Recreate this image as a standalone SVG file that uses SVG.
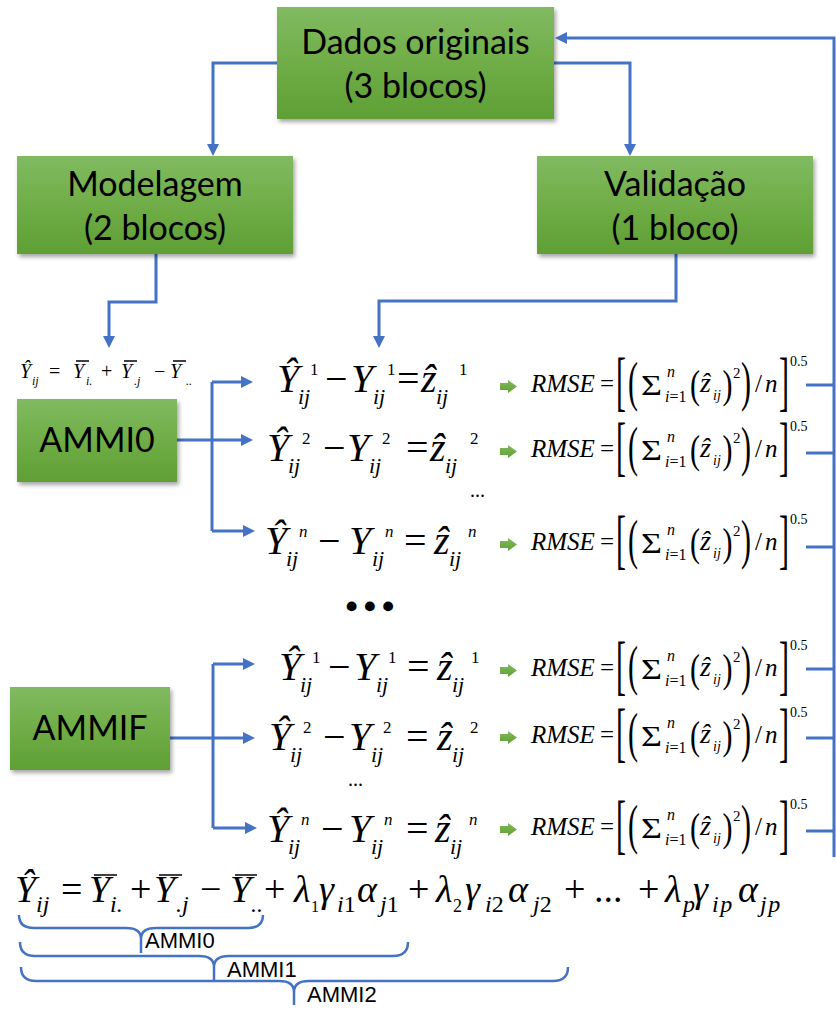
<svg xmlns="http://www.w3.org/2000/svg" width="836" height="1021" viewBox="0 0 836 1021">
<style>
.box{fill:url(#gg);filter:url(#sh)}
.bt{font-family:Lato,"Liberation Sans",sans-serif;font-size:34px;fill:#000;text-anchor:middle}
.c{fill:none;stroke:#4472C4;stroke-width:3}
.a{marker-end:url(#ah)}
.br{fill:none;stroke:#4472C4;stroke-width:2.5}
.lb{font-family:"Liberation Sans",Arial,sans-serif;font-size:22px;fill:#000}
.m{font-family:"Liberation Serif","Times New Roman","DejaVu Serif",serif;fill:#000}
.i{font-style:italic}
.n{font-style:normal}
.E{font-size:40px}
.s{font-size:22px}
.u{font-size:17px}
.F{font-size:38px}
.t{font-size:24px}
.bar{stroke:#000;stroke-width:1.5}
.ga{fill:url(#gg)}
</style>
<defs>
<linearGradient id="gg" x1="0" y1="0" x2="0" y2="1">
<stop offset="0" stop-color="#81BA61"/>
<stop offset="0.5" stop-color="#70AD47"/>
<stop offset="1" stop-color="#5F9F34"/>
</linearGradient>
<filter id="sh" x="-10%" y="-10%" width="130%" height="140%">
<feDropShadow dx="2" dy="3" stdDeviation="2" flood-color="#000" flood-opacity="0.35"/>
</filter>
<marker id="ah" markerWidth="12" markerHeight="12" refX="6" refY="6" orient="auto" markerUnits="userSpaceOnUse">
<path d="M0,0 L12,6 L0,12 Z" fill="#4472C4"/>
</marker>
</defs>
<rect width="836" height="1021" fill="#fff"/>

<g id="connectors">
<path class="c a" d="M277,63 H213 V150"/>
<path class="c a" d="M554,63 H630 V150"/>
<path class="c a" d="M156,254 V302 H109 V342"/>
<path class="c a" d="M676,254 V301 H379 V342"/>
<path class="c a" d="M177,440 H247"/>
<path class="c" d="M212,382 V531"/>
<path class="c a" d="M212,382 H247"/>
<path class="c a" d="M212,531 H249"/>
<path class="c a" d="M170,738 H249"/>
<path class="c" d="M213,664 V828"/>
<path class="c a" d="M213,664 H249"/>
<path class="c a" d="M213,828 H251"/>
<path class="c a" d="M834,857 V38 H561"/>
<path class="c" d="M806,385 H834 M806,453 H834 M806,547 H834 M806,669 H834 M806,738 H834 M806,831 H834"/>
</g>

<g id="dados">
<rect class="box" x="277" y="7" width="277" height="112"/>
<text class="bt" x="415.5" y="54">Dados originais</text>
<text class="bt" x="415.5" y="98">(3 blocos)</text>
</g>
<g id="modelagem">
<rect class="box" x="17" y="156" width="276" height="98"/>
<text class="bt" x="155" y="196">Modelagem</text>
<text class="bt" x="155" y="240">(2 blocos)</text>
</g>
<g id="validacao">
<rect class="box" x="537" y="156" width="276" height="98"/>
<text class="bt" x="675" y="196">Validação</text>
<text class="bt" x="675" y="240">(1 bloco)</text>
</g>
<g id="ammi0">
<rect class="box" x="17" y="399" width="160" height="83"/>
<text class="bt" x="97" y="452">AMMI0</text>
</g>
<g id="ammif">
<rect class="box" x="10" y="687" width="160" height="83"/>
<text class="bt" x="90" y="740">AMMIF</text>
</g>

<g id="formula-ammi0">
<text class="m" font-size="20"><tspan class="i" x="20" y="378">Ŷ</tspan><tspan class="i" font-size="12" x="32" y="385">ij</tspan><tspan x="49" y="378">=</tspan><tspan class="i" x="73" y="378">Y</tspan><tspan class="i" font-size="12" x="86" y="385">i.</tspan><tspan x="101" y="378">+</tspan><tspan class="i" x="121" y="378">Y</tspan><tspan class="i" font-size="12" x="134" y="385">.j</tspan><tspan x="154" y="378">−</tspan><tspan class="i" x="170" y="378">Y</tspan><tspan class="i" font-size="12" x="186" y="385">..</tspan></text>
<line class="bar" x1="76" y1="361" x2="89" y2="361" stroke-width="1"/>
<line class="bar" x1="124" y1="361" x2="137" y2="361" stroke-width="1"/>
<line class="bar" x1="173" y1="361" x2="186" y2="361" stroke-width="1"/>
</g>

<g id="eq-g1-r1">
<text class="m E"><tspan class="i" x="277" y="392">Ŷ</tspan><tspan class="i s" x="298" y="404">ij</tspan><tspan class="u" x="310" y="375">1</tspan><tspan x="325" y="392">−</tspan><tspan class="i" x="351" y="392">Y</tspan><tspan class="i s" x="373" y="404">ij</tspan><tspan class="u" x="387" y="375">1</tspan><tspan x="397" y="392">=</tspan><tspan class="i" x="421" y="392">ẑ</tspan><tspan class="i s" x="436" y="404">ij</tspan><tspan class="u" x="459" y="375">1</tspan></text>
</g>
<g id="eq-g1-r2">
<text class="m E"><tspan class="i" x="267" y="461">Ŷ</tspan><tspan class="i s" x="288" y="473">ij</tspan><tspan class="u" x="302" y="444">2</tspan><tspan x="323" y="461">−</tspan><tspan class="i" x="347" y="461">Y</tspan><tspan class="i s" x="369" y="473">ij</tspan><tspan class="u" x="382" y="444">2</tspan><tspan x="406" y="461">=</tspan><tspan class="i" x="430" y="461">ẑ</tspan><tspan class="i s" x="445" y="473">ij</tspan><tspan class="u" x="470" y="444">2</tspan></text>
</g>
<text class="m" x="470" y="497" font-size="20">...</text>
<g id="eq-g1-rn">
<text class="m E"><tspan class="i" x="265" y="554">Ŷ</tspan><tspan class="i s" x="286" y="566">ij</tspan><tspan class="i u" x="299" y="537">n</tspan><tspan x="318" y="554">−</tspan><tspan class="i" x="349" y="554">Y</tspan><tspan class="i s" x="372" y="566">ij</tspan><tspan class="i u" x="385" y="537">n</tspan><tspan x="404" y="554">=</tspan><tspan class="i" x="434" y="554">ẑ</tspan><tspan class="i s" x="449" y="566">ij</tspan><tspan class="i u" x="468" y="537">n</tspan></text>
</g>

<text class="m" x="346" y="610" font-size="45" font-weight="bold" letter-spacing="7" stroke="#000" stroke-width="2.5">...</text>

<g id="eq-g2-r1">
<text class="m E"><tspan class="i" x="279" y="680">Ŷ</tspan><tspan class="i s" x="300" y="692">ij</tspan><tspan class="u" x="312" y="663">1</tspan><tspan x="328" y="680">−</tspan><tspan class="i" x="354" y="680">Y</tspan><tspan class="i s" x="376" y="692">ij</tspan><tspan class="u" x="388" y="663">1</tspan><tspan x="407" y="680">=</tspan><tspan class="i" x="437" y="680">ẑ</tspan><tspan class="i s" x="452" y="692">ij</tspan><tspan class="u" x="471" y="663">1</tspan></text>
</g>
<g id="eq-g2-r2">
<text class="m E"><tspan class="i" x="269" y="750">Ŷ</tspan><tspan class="i s" x="290" y="762">ij</tspan><tspan class="u" x="303" y="733">2</tspan><tspan x="323" y="750">−</tspan><tspan class="i" x="349" y="750">Y</tspan><tspan class="i s" x="371" y="762">ij</tspan><tspan class="u" x="383" y="733">2</tspan><tspan x="406" y="750">=</tspan><tspan class="i" x="437" y="750">ẑ</tspan><tspan class="i s" x="452" y="762">ij</tspan><tspan class="u" x="470" y="733">2</tspan></text>
</g>
<text class="m" x="348" y="786" font-size="20">...</text>
<g id="eq-g2-rn">
<text class="m E"><tspan class="i" x="267" y="842">Ŷ</tspan><tspan class="i s" x="288" y="854">ij</tspan><tspan class="i u" x="301" y="825">n</tspan><tspan x="321" y="842">−</tspan><tspan class="i" x="349" y="842">Y</tspan><tspan class="i s" x="371" y="854">ij</tspan><tspan class="i u" x="384" y="825">n</tspan><tspan x="406" y="842">=</tspan><tspan class="i" x="435" y="842">ẑ</tspan><tspan class="i s" x="450" y="854">ij</tspan><tspan class="i u" x="469" y="825">n</tspan></text>
</g>

<g id="rmse-1">
<polygon class="ga" points="500,383 508,383 508,380 517,386.5 508,393 508,390 500,390"/>
<text class="m" font-size="25"><tspan class="i" x="531" y="392">RMSE</tspan><tspan x="600" y="392">=</tspan></text>
<text class="m" transform="translate(616,413) scale(1,2.15)" y="-4.5" font-size="30">[</text>
<text class="m" transform="translate(628,410) scale(1,1.84)" y="-5.3" font-size="30">(</text>
<text class="m" transform="translate(641,395) scale(1.2,1)" font-size="30">Σ</text>
<text class="m" font-size="16"><tspan class="i" x="667" y="377">n</tspan><tspan class="i" x="665" y="402">i</tspan><tspan>=1</tspan></text>
<text class="m" transform="translate(690,405) scale(1,1.3)" y="-5.3" font-size="30">(</text>
<text class="m i" font-size="28"><tspan x="700" y="392">ẑ</tspan><tspan font-size="14" x="713" y="400">ij</tspan></text>
<text class="m" transform="translate(722.5,405) scale(1,1.3)" y="-5.3" font-size="30">)</text>
<text class="m" x="733" y="378" font-size="15">2</text>
<text class="m" transform="translate(741,410) scale(1,1.84)" y="-5.3" font-size="30">)</text>
<text class="m" font-size="25"><tspan x="755" y="392">/</tspan><tspan class="i" x="765" y="392">n</tspan></text>
<text class="m" transform="translate(779,413) scale(1,2.15)" y="-4.5" font-size="30">]</text>
<text class="m" x="790" y="366" font-size="14">0.5</text>
</g>
<g id="rmse-2" transform="translate(0,65)">
<polygon class="ga" points="500,383 508,383 508,380 517,386.5 508,393 508,390 500,390"/>
<text class="m" font-size="25"><tspan class="i" x="531" y="392">RMSE</tspan><tspan x="600" y="392">=</tspan></text>
<text class="m" transform="translate(616,413) scale(1,2.15)" y="-4.5" font-size="30">[</text>
<text class="m" transform="translate(628,410) scale(1,1.84)" y="-5.3" font-size="30">(</text>
<text class="m" transform="translate(641,395) scale(1.2,1)" font-size="30">Σ</text>
<text class="m" font-size="16"><tspan class="i" x="667" y="377">n</tspan><tspan class="i" x="665" y="402">i</tspan><tspan>=1</tspan></text>
<text class="m" transform="translate(690,405) scale(1,1.3)" y="-5.3" font-size="30">(</text>
<text class="m i" font-size="28"><tspan x="700" y="392">ẑ</tspan><tspan font-size="14" x="713" y="400">ij</tspan></text>
<text class="m" transform="translate(722.5,405) scale(1,1.3)" y="-5.3" font-size="30">)</text>
<text class="m" x="733" y="378" font-size="15">2</text>
<text class="m" transform="translate(741,410) scale(1,1.84)" y="-5.3" font-size="30">)</text>
<text class="m" font-size="25"><tspan x="755" y="392">/</tspan><tspan class="i" x="765" y="392">n</tspan></text>
<text class="m" transform="translate(779,413) scale(1,2.15)" y="-4.5" font-size="30">]</text>
<text class="m" x="790" y="366" font-size="14">0.5</text>
</g>
<g id="rmse-3" transform="translate(0,158)">
<polygon class="ga" points="500,383 508,383 508,380 517,386.5 508,393 508,390 500,390"/>
<text class="m" font-size="25"><tspan class="i" x="531" y="392">RMSE</tspan><tspan x="600" y="392">=</tspan></text>
<text class="m" transform="translate(616,413) scale(1,2.15)" y="-4.5" font-size="30">[</text>
<text class="m" transform="translate(628,410) scale(1,1.84)" y="-5.3" font-size="30">(</text>
<text class="m" transform="translate(641,395) scale(1.2,1)" font-size="30">Σ</text>
<text class="m" font-size="16"><tspan class="i" x="667" y="377">n</tspan><tspan class="i" x="665" y="402">i</tspan><tspan>=1</tspan></text>
<text class="m" transform="translate(690,405) scale(1,1.3)" y="-5.3" font-size="30">(</text>
<text class="m i" font-size="28"><tspan x="700" y="392">ẑ</tspan><tspan font-size="14" x="713" y="400">ij</tspan></text>
<text class="m" transform="translate(722.5,405) scale(1,1.3)" y="-5.3" font-size="30">)</text>
<text class="m" x="733" y="378" font-size="15">2</text>
<text class="m" transform="translate(741,410) scale(1,1.84)" y="-5.3" font-size="30">)</text>
<text class="m" font-size="25"><tspan x="755" y="392">/</tspan><tspan class="i" x="765" y="392">n</tspan></text>
<text class="m" transform="translate(779,413) scale(1,2.15)" y="-4.5" font-size="30">]</text>
<text class="m" x="790" y="366" font-size="14">0.5</text>
</g>
<g id="rmse-4" transform="translate(0,284)">
<polygon class="ga" points="500,383 508,383 508,380 517,386.5 508,393 508,390 500,390"/>
<text class="m" font-size="25"><tspan class="i" x="531" y="392">RMSE</tspan><tspan x="600" y="392">=</tspan></text>
<text class="m" transform="translate(616,413) scale(1,2.15)" y="-4.5" font-size="30">[</text>
<text class="m" transform="translate(628,410) scale(1,1.84)" y="-5.3" font-size="30">(</text>
<text class="m" transform="translate(641,395) scale(1.2,1)" font-size="30">Σ</text>
<text class="m" font-size="16"><tspan class="i" x="667" y="377">n</tspan><tspan class="i" x="665" y="402">i</tspan><tspan>=1</tspan></text>
<text class="m" transform="translate(690,405) scale(1,1.3)" y="-5.3" font-size="30">(</text>
<text class="m i" font-size="28"><tspan x="700" y="392">ẑ</tspan><tspan font-size="14" x="713" y="400">ij</tspan></text>
<text class="m" transform="translate(722.5,405) scale(1,1.3)" y="-5.3" font-size="30">)</text>
<text class="m" x="733" y="378" font-size="15">2</text>
<text class="m" transform="translate(741,410) scale(1,1.84)" y="-5.3" font-size="30">)</text>
<text class="m" font-size="25"><tspan x="755" y="392">/</tspan><tspan class="i" x="765" y="392">n</tspan></text>
<text class="m" transform="translate(779,413) scale(1,2.15)" y="-4.5" font-size="30">]</text>
<text class="m" x="790" y="366" font-size="14">0.5</text>
</g>
<g id="rmse-5" transform="translate(0,351)">
<polygon class="ga" points="500,383 508,383 508,380 517,386.5 508,393 508,390 500,390"/>
<text class="m" font-size="25"><tspan class="i" x="531" y="392">RMSE</tspan><tspan x="600" y="392">=</tspan></text>
<text class="m" transform="translate(616,413) scale(1,2.15)" y="-4.5" font-size="30">[</text>
<text class="m" transform="translate(628,410) scale(1,1.84)" y="-5.3" font-size="30">(</text>
<text class="m" transform="translate(641,395) scale(1.2,1)" font-size="30">Σ</text>
<text class="m" font-size="16"><tspan class="i" x="667" y="377">n</tspan><tspan class="i" x="665" y="402">i</tspan><tspan>=1</tspan></text>
<text class="m" transform="translate(690,405) scale(1,1.3)" y="-5.3" font-size="30">(</text>
<text class="m i" font-size="28"><tspan x="700" y="392">ẑ</tspan><tspan font-size="14" x="713" y="400">ij</tspan></text>
<text class="m" transform="translate(722.5,405) scale(1,1.3)" y="-5.3" font-size="30">)</text>
<text class="m" x="733" y="378" font-size="15">2</text>
<text class="m" transform="translate(741,410) scale(1,1.84)" y="-5.3" font-size="30">)</text>
<text class="m" font-size="25"><tspan x="755" y="392">/</tspan><tspan class="i" x="765" y="392">n</tspan></text>
<text class="m" transform="translate(779,413) scale(1,2.15)" y="-4.5" font-size="30">]</text>
<text class="m" x="790" y="366" font-size="14">0.5</text>
</g>
<g id="rmse-6" transform="translate(0,443)">
<polygon class="ga" points="500,383 508,383 508,380 517,386.5 508,393 508,390 500,390"/>
<text class="m" font-size="25"><tspan class="i" x="531" y="392">RMSE</tspan><tspan x="600" y="392">=</tspan></text>
<text class="m" transform="translate(616,413) scale(1,2.15)" y="-4.5" font-size="30">[</text>
<text class="m" transform="translate(628,410) scale(1,1.84)" y="-5.3" font-size="30">(</text>
<text class="m" transform="translate(641,395) scale(1.2,1)" font-size="30">Σ</text>
<text class="m" font-size="16"><tspan class="i" x="667" y="377">n</tspan><tspan class="i" x="665" y="402">i</tspan><tspan>=1</tspan></text>
<text class="m" transform="translate(690,405) scale(1,1.3)" y="-5.3" font-size="30">(</text>
<text class="m i" font-size="28"><tspan x="700" y="392">ẑ</tspan><tspan font-size="14" x="713" y="400">ij</tspan></text>
<text class="m" transform="translate(722.5,405) scale(1,1.3)" y="-5.3" font-size="30">)</text>
<text class="m" x="733" y="378" font-size="15">2</text>
<text class="m" transform="translate(741,410) scale(1,1.84)" y="-5.3" font-size="30">)</text>
<text class="m" font-size="25"><tspan x="755" y="392">/</tspan><tspan class="i" x="765" y="392">n</tspan></text>
<text class="m" transform="translate(779,413) scale(1,2.15)" y="-4.5" font-size="30">]</text>
<text class="m" x="790" y="366" font-size="14">0.5</text>
</g>

<g id="formula-ammi">
<text class="m F"><tspan class="i" x="15" y="902">Ŷ</tspan><tspan class="i t" x="36" y="912">ij</tspan><tspan x="61" y="902">=</tspan><tspan class="i" x="89" y="902">Y</tspan><tspan class="i t" x="110" y="912">i.</tspan><tspan x="130" y="902">+</tspan><tspan class="i" x="154" y="902">Y</tspan><tspan class="i t" x="176" y="912">.j</tspan><tspan x="200" y="902">−</tspan><tspan class="i" x="230" y="902">Y</tspan><tspan class="i t" x="251" y="912">..</tspan><tspan x="264" y="902">+</tspan><tspan class="i" x="294" y="902">λ</tspan><tspan x="311" y="912" font-size="16">1</tspan><tspan class="i" x="319" y="902">γ</tspan><tspan class="i t" x="337" y="912">i<tspan class="n">1</tspan></tspan><tspan class="i" x="357" y="902">α</tspan><tspan class="i t" x="380" y="912">j<tspan class="n">1</tspan></tspan><tspan x="408" y="902">+</tspan><tspan class="i" x="436" y="902">λ</tspan><tspan x="453" y="912" font-size="18">2</tspan><tspan class="i" x="465" y="902">γ</tspan><tspan class="i t" x="485" y="912">i<tspan class="n">2</tspan></tspan><tspan class="i" x="508" y="902">α</tspan><tspan class="i t" x="533" y="912">j<tspan class="n">2</tspan></tspan><tspan x="564" y="902">+</tspan><tspan x="594" y="902">...</tspan><tspan x="638" y="902">+</tspan><tspan class="i" x="665" y="902">λ</tspan><tspan class="i t" x="683" y="912">p</tspan><tspan class="i" x="693" y="902">γ</tspan><tspan class="i t" x="712" y="912" letter-spacing="1.5">ip</tspan><tspan class="i" x="738" y="902">α</tspan><tspan class="i t" x="760" y="912" letter-spacing="1.5">jp</tspan></text>
<line class="bar" x1="94" y1="875" x2="117" y2="875"/>
<line class="bar" x1="159" y1="875" x2="182" y2="875"/>
<line class="bar" x1="235" y1="875" x2="257" y2="875"/>
</g>

<g id="brace-ammi0">
<path class="br" d="M19,915 Q19,928 34,928 H126 Q141,928 141,939 Q141,928 156,928 H248 Q263,928 263,915 M141,939 V953"/>
<text class="lb" x="145" y="948">AMMI0</text>
</g>
<g id="brace-ammi1">
<path class="br" d="M20,942 Q20,956 35,956 H199 Q214,956 214,967 Q214,956 229,956 H393 Q408,956 408,942 M214,967 V980"/>
<text class="lb" x="227" y="977">AMMI1</text>
</g>
<g id="brace-ammi2">
<path class="br" d="M21,967 Q21,981 36,981 H279 Q294,981 294,992 Q294,981 309,981 H553 Q568,981 568,967 M294,992 V1005"/>
<text class="lb" x="307" y="1002">AMMI2</text>
</g>
</svg>
